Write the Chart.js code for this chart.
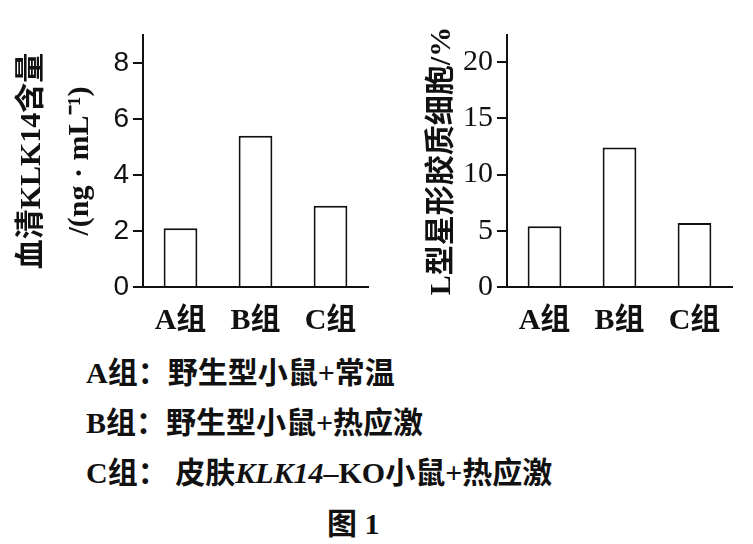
<!doctype html>
<html>
<head>
<meta charset="utf-8">
<title>图 1</title>
<script src="https://cdn.jsdelivr.net/npm/chart.js@4.4.1/dist/chart.umd.min.js"></script>
<style>
  body { margin:0; width:753px; height:544px; background:#fff; position:relative; overflow:hidden;
         font-family:"Liberation Serif","Noto Sans CJK SC",serif; color:#111; }
  .box { position:absolute; }
  .note { position:absolute; left:86px; font-size:30px; font-weight:bold; line-height:32px; white-space:nowrap; }
  .cap { position:absolute; left:327px; top:508px; font-size:30px; font-weight:bold; line-height:32px; }
</style>
</head>
<body>
<div class="box" style="left:0;top:0;width:380px;height:340px"><canvas id="links"></canvas></div>
<div class="box" style="left:380px;top:0;width:373px;height:340px"><canvas id="parem"></canvas></div>
<div class="note" style="top:357px">A组：野生型小鼠+常温</div>
<div class="note" style="top:407px">B组：野生型小鼠+热应激</div>
<div class="note" style="top:457px">C组：&nbsp;皮肤<i>KLK14</i>–KO小鼠+热应激</div>
<div class="cap">图 1</div>
<script>
  const grupid = ['A组', 'B组', 'C组'];
  const klk14 = [2.1, 5.4, 2.9];
  const lRakud = [5.4, 12.4, 5.7];
  const vasakTicks = [0, 2, 4, 6, 8];
  const paremTicks = [0, 5, 10, 15, 20];

  const serif = "'Liberation Serif','Noto Sans CJK SC',serif";
  const must = '#111';

  function joonis(id, andmed, ymax, sammud, pealkiri, tickFont, vasakPad, vasak, parem) {
    return new Chart(document.getElementById(id), {
      type: 'bar',
      data: {
        labels: grupid,
        datasets: [{
          data: andmed,
          backgroundColor: '#fff',
          borderColor: must,
          borderWidth: 2,
          borderSkipped: 'bottom',
          barPercentage: 0.45,
          categoryPercentage: 1
        }]
      },
      options: {
        responsive: false,
        animation: false,
        layout: { padding: { left: vasakPad, right: parem, top: 35, bottom: 0 } },
        plugins: { legend: { display: false }, tooltip: { enabled: false } },
        scales: {
          x: {
            grid: { display: false },
            border: { display: true, color: must, width: 2 },
            ticks: { color: must, padding: 8, font: { family: serif, size: 30, weight: 'bold' } },
            afterFit: s => { s.height = 53; }
          },
          y: {
            min: 0, max: ymax,
            ticks: { color: must, padding: 4, font: tickFont },
            afterBuildTicks: s => { s.ticks = sammud.map(v => ({ value: v })); },
            grid: { drawOnChartArea: false, drawTicks: true, tickLength: 10, color: must, lineWidth: 2 },
            border: { color: must, width: 2 },
            title: { display: true, text: pealkiri, color: must, padding: 0,
                     font: { family: serif, size: 30, weight: 'bold', lineHeight: 1.6 } },
            afterFit: s => { s.width = vasak; }
          }
        }
      }
    });
  }

  document.getElementById('links').width = 380;
  document.getElementById('links').height = 340;
  document.getElementById('parem').width = 373;
  document.getElementById('parem').height = 340;

  joonis('links', klk14, 9, vasakTicks, ['血清KLK14含量', '/(ng · mL⁻¹)'],
         { family: "'Liberation Sans',sans-serif", size: 28 }, 8, 135, 12);
  joonis('parem', lRakud, 22.4, paremTicks, 'L型星形胶质细胞/%',
         { family: "'Liberation Serif',serif", size: 30 }, 38, 89, 21);
</script>
</body>
</html>
